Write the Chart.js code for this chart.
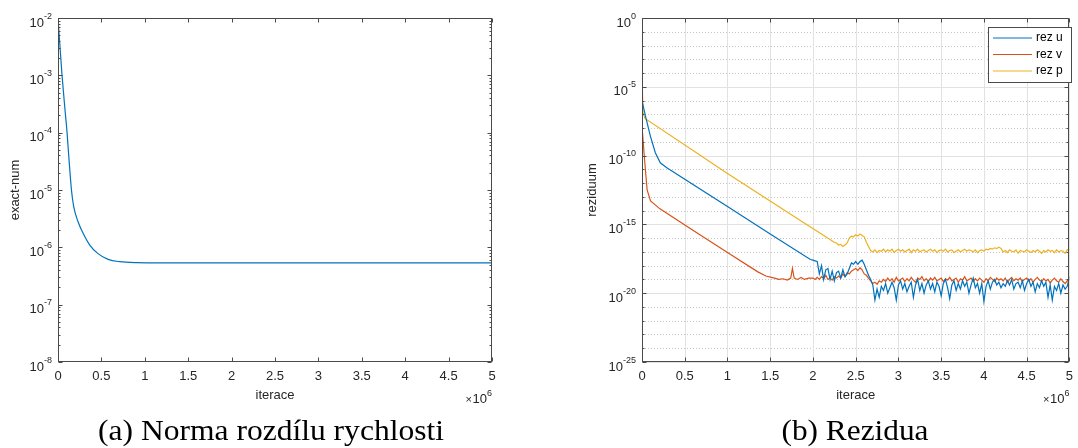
<!DOCTYPE html>
<html>
<head>
<meta charset="utf-8">
<title>Norma rozdílu rychlosti / Rezidua</title>
<script src="https://cdn.jsdelivr.net/npm/chart.js@4.4.1/dist/chart.umd.min.js"></script>
<style>
  body { margin: 0; width: 1078px; height: 448px; overflow: hidden; background: #fff; position: relative; }
  canvas { position: absolute; top: 0; }
  .cap { position: absolute; top: 416px; font: 29px/29px "Liberation Serif", "Times New Roman", serif; color: #000; white-space: nowrap; transform-origin: center; }
</style>
</head>
<body>
<canvas id="chartA" width="540" height="448" style="left:0"></canvas>
<canvas id="chartB" width="540" height="448" style="left:540px"></canvas>
<div class="cap" id="capA">(a) Norma rozdílu rychlosti</div>
<div class="cap" id="capB">(b) Rezidua</div>
<script>
// x values are in units of 10^6 iterations, y values are stored as log10
const exactX = [0, 0.02, 0.046, 0.077, 0.104, 0.127, 0.155, 0.181, 0.23, 0.288, 0.366, 0.461, 0.577, 0.712, 0.904, 1.2, 5.0];
const exactLog10 = [-2.0, -2.44, -2.99, -3.54, -3.99, -4.47, -5.0, -5.29, -5.55, -5.75, -5.96, -6.11, -6.21, -6.25, -6.266, -6.27, -6.27];

// smooth start of each residual curve
const rezUHeadX = [0, 0.04, 0.098, 0.156, 0.214, 0.29, 1.0, 1.5, 1.97];
const rezUHeadLog10 = [-6.0, -7.12, -8.58, -9.79, -10.52, -10.88, -13.7, -15.7, -17.55];
const rezVHeadX = [0, 0.03, 0.06, 0.1, 0.21, 0.6, 1.0, 1.355, 1.45, 1.55, 1.6, 1.65, 1.7, 1.74, 1.76, 1.78, 1.82, 1.86, 1.9, 1.95];
const rezVHeadLog10 = [-7.85, -10.3, -12.5, -13.3, -13.87, -15.45, -17.05, -18.45, -18.75, -18.9, -19.0, -18.95, -19.05, -18.9, -18.2, -18.9, -19.0, -18.85, -19.0, -18.9];
const rezPHeadX = [0, 0.004, 0.012, 0.035, 1.0, 1.975];
const rezPHeadLog10 = [-1.2, -5.0, -6.9, -7.3, -11.3, -15.2];

// noisy part, read every 0.025e6 iterations from 2.0e6 to 5.0e6
const tailStart = 2.0;
const tailStep = 0.025;
const rezUTailLog10 = [
  -17.6, -17.65, -17.7, -18.6, -18.0, -19.0, -18.3, -18.2, -19.0, -18.4,
  -19.1, -18.5, -18.4, -18.9, -18.3, -18.8, -18.6, -18.2, -17.8, -17.9,
  -17.7, -17.9, -17.7, -17.6, -17.9, -18.3, -18.7, -19.0, -19.4, -20.5,
  -19.7, -20.3, -19.5, -19.8, -19.3, -20.0, -19.6, -19.2, -19.6, -20.5,
  -19.4, -19.1, -19.7, -19.3, -19.9, -19.5, -19.2, -20.3, -19.4, -19.0,
  -19.8, -19.3, -20.0, -19.4, -19.1, -19.7, -19.3, -19.9, -19.2, -19.5,
  -20.2, -19.3, -19.0, -19.6, -20.4, -19.4, -19.1, -19.8, -19.3, -19.7,
  -19.1, -19.5, -19.2, -20.0, -19.4, -18.9, -19.6, -19.3, -20.0, -19.3,
  -20.6, -19.5, -19.1, -19.7, -19.2, -19.0, -19.4, -19.2, -19.6, -19.3,
  -19.5, -19.1, -19.4, -19.0, -19.7, -19.3, -19.2, -19.6, -19.1, -19.8,
  -19.3, -19.0, -19.5, -19.2, -19.9, -19.3, -19.6, -19.1, -19.5, -19.2,
  -20.3, -19.4, -20.5, -19.5, -19.8, -19.3, -20.0, -19.4, -19.7, -19.5,
  -18.8
];
const rezVTailLog10 = [
  -18.9, -19.0, -18.85, -19.0, -18.8, -18.95, -18.7, -19.0, -18.9, -19.05,
  -18.8, -18.9, -18.75, -18.9, -18.6, -18.8, -18.5, -18.6, -18.4, -18.3,
  -18.2, -18.35, -18.15, -18.3, -18.6, -18.7, -18.9, -19.1, -19.3, -19.2,
  -19.35, -19.1, -19.2, -19.0, -19.15, -18.9, -19.1, -18.95, -19.2, -18.85,
  -19.1, -19.0, -18.9, -19.15, -18.95, -19.1, -18.85, -19.05, -19.2, -18.9,
  -19.0, -18.8, -19.1, -18.95, -19.15, -18.9, -19.05, -18.85, -19.1, -19.0,
  -18.9, -19.15, -18.95, -19.05, -18.85, -19.1, -19.0, -18.9, -19.2, -18.95,
  -19.05, -18.8, -19.1, -19.0, -18.9, -19.15, -18.95, -19.1, -18.9, -19.05,
  -19.2, -18.95, -19.1, -18.85, -19.0, -19.15, -18.9, -19.05, -18.95, -19.1,
  -18.9, -19.2, -19.0, -18.85, -19.1, -18.95, -19.05, -18.9, -19.15, -19.0,
  -18.9, -19.1, -18.95, -19.2, -19.0, -18.85, -19.05, -19.15, -18.95, -19.1,
  -19.0, -19.25, -19.05, -18.9, -19.1, -19.2, -18.95, -19.15, -19.3, -19.1,
  -19.0
];
const rezPTailLog10 = [
  -15.3, -15.4, -15.5, -15.6, -15.7, -15.8, -15.9, -16.0, -16.1, -16.2,
  -16.3, -16.35, -16.5, -16.45, -16.6, -16.5, -16.35, -16.0, -15.85, -15.9,
  -15.75, -15.85, -15.7, -15.8, -15.9, -16.3, -16.6, -16.9, -17.0, -16.85,
  -17.05, -16.9, -16.95, -16.8, -17.0, -16.85, -16.95, -16.8, -17.05, -16.9,
  -16.8, -16.95, -16.85, -17.0, -16.9, -16.8, -17.05, -16.85, -16.95, -16.8,
  -17.0, -16.9, -16.85, -17.0, -16.9, -16.8, -16.95, -16.85, -17.05, -16.9,
  -16.85, -16.95, -16.8, -17.0, -16.9, -16.85, -17.05, -16.95, -16.85, -17.0,
  -16.9, -16.8, -16.95, -16.85, -16.9, -17.0, -16.85, -17.05, -16.9, -16.85,
  -16.95, -16.8, -16.85, -16.75, -16.8, -16.7, -16.75, -16.65, -16.75, -17.0,
  -16.9, -17.05, -16.85, -16.95, -17.0, -16.85, -17.1, -16.9, -16.95, -17.0,
  -16.85, -16.95, -17.05, -16.9, -17.0, -16.85, -16.95, -17.1, -16.9, -17.0,
  -16.85, -16.95, -16.9, -17.05, -16.85, -17.0, -16.9, -16.95, -17.1, -16.85,
  -16.8
];

const leftYExps = [-8, -7, -6, -5, -4, -3, -2];
const rightYExps = [-25, -20, -15, -10, -5, 0];
const xTickStep = 0.5;

const seriesLabels = ["rez u", "rez v", "rez p"];
const blue = "#0072BD", red = "#D95319", yellow = "#EDB120";
const ink = "#262626";

Chart.defaults.font.family = '"Liberation Sans", Arial, sans-serif';
Chart.defaults.font.size = 13;

function points(xs, logs) {
  return xs.map((x, i) => ({ x: x, y: Math.pow(10, logs[i]) }));
}
function withTail(headX, headLog, tailLog) {
  const pts = points(headX, headLog);
  tailLog.forEach((l, i) => pts.push({ x: tailStart + i * tailStep, y: Math.pow(10, l) }));
  return pts;
}

// MATLAB-like box, inward ticks, exponent labels, grid and legend
const matlabAxes = {
  id: "matlabAxes",
  beforeDatasetsDraw(chart, args, opts) {
    if (!opts.grid) return;
    const { ctx, chartArea: a, scales: { x, y } } = chart;
    ctx.save();
    ctx.lineWidth = 1;
    const lo = opts.yExps[0], hi = opts.yExps[opts.yExps.length - 1];
    ctx.strokeStyle = "#c4c4c4";
    ctx.setLineDash([1, 2]);
    for (let e = lo + 1; e < hi; e++) {
      if (opts.yExps.includes(e)) continue;
      const py = Math.round(y.getPixelForValue(Math.pow(10, e))) + 0.5;
      ctx.beginPath(); ctx.moveTo(a.left, py); ctx.lineTo(a.right, py); ctx.stroke();
    }
    ctx.setLineDash([]);
    ctx.strokeStyle = "#e2e2e2";
    opts.yExps.forEach(e => {
      const py = Math.round(y.getPixelForValue(Math.pow(10, e))) + 0.5;
      ctx.beginPath(); ctx.moveTo(a.left, py); ctx.lineTo(a.right, py); ctx.stroke();
    });
    x.ticks.forEach(t => {
      const px = Math.round(x.getPixelForValue(t.value)) + 0.5;
      ctx.beginPath(); ctx.moveTo(px, a.top); ctx.lineTo(px, a.bottom); ctx.stroke();
    });
    ctx.restore();
  },
  afterDraw(chart, args, opts) {
    const { ctx, chartArea: a, scales: { x, y } } = chart;
    const L = Math.round(a.left) + 0.5, R = Math.round(a.right) - 0.5;
    const T = Math.round(a.top) + 0.5, B = Math.round(a.bottom) - 0.5;
    ctx.save();
    ctx.strokeStyle = "#4a4a4a";
    ctx.lineWidth = 1;
    ctx.strokeRect(L, T, R - L, B - T);

    // ticks
    ctx.beginPath();
    x.ticks.forEach(t => {
      const px = Math.round(x.getPixelForValue(t.value)) + 0.5;
      ctx.moveTo(px, B); ctx.lineTo(px, B - 4);
      ctx.moveTo(px, T); ctx.lineTo(px, T + 4);
    });
    const lo = opts.yExps[0], hi = opts.yExps[opts.yExps.length - 1];
    const yTick = (v, len) => {
      const py = Math.round(y.getPixelForValue(v)) + 0.5;
      ctx.moveTo(L, py); ctx.lineTo(L + len, py);
      ctx.moveTo(R, py); ctx.lineTo(R - len, py);
    };
    opts.yExps.forEach(e => yTick(Math.pow(10, e), 4));
    if (opts.minor === "log") {
      for (let e = lo; e < hi; e++) {
        for (let m = 2; m <= 9; m++) yTick(m * Math.pow(10, e), 2);
      }
    } else {
      for (let e = lo + 1; e < hi; e++) {
        if (!opts.yExps.includes(e)) yTick(Math.pow(10, e), 2);
      }
    }
    ctx.stroke();

    // y labels 10^e
    ctx.fillStyle = ink;
    ctx.textAlign = "left";
    ctx.textBaseline = "alphabetic";
    opts.yExps.forEach(e => {
      const py = y.getPixelForValue(Math.pow(10, e));
      const right = a.left - 6;
      ctx.font = '9px "Liberation Sans", Arial, sans-serif';
      const ex = String(e);
      const we = ctx.measureText(ex).width;
      ctx.fillText(ex, right - we, py + 0.5);
      ctx.font = '13px "Liberation Sans", Arial, sans-serif';
      const wb = ctx.measureText("10").width;
      ctx.fillText("10", right - we - wb, py + 8.5);
    });

    // x10^6 under the right end of the x axis
    ctx.font = '9px "Liberation Sans", Arial, sans-serif';
    const w6 = ctx.measureText("6").width;
    ctx.fillText("6", a.right - w6, 396);
    ctx.font = '13px "Liberation Sans", Arial, sans-serif';
    const w10 = ctx.measureText("10").width;
    ctx.fillText("10", a.right - w6 - w10, 403);
    ctx.font = '11px "Liberation Sans", Arial, sans-serif';
    const wx = ctx.measureText("\u00d7").width;
    ctx.fillText("\u00d7", a.right - w6 - w10 - wx - 0.5, 403);

    // legend box inside the axes
    if (opts.legend) {
      const lg = opts.legend;
      ctx.fillStyle = "#fff";
      ctx.fillRect(lg.x, lg.y, lg.w, lg.h);
      ctx.strokeStyle = "#4a4a4a";
      ctx.strokeRect(lg.x + 0.5, lg.y + 0.5, lg.w, lg.h);
      ctx.font = '12px "Liberation Sans", Arial, sans-serif';
      ctx.textBaseline = "middle";
      chart.data.datasets.forEach((ds, i) => {
        const ry = lg.y + lg.firstRow + i * lg.rowGap;
        ctx.strokeStyle = ds.borderColor;
        ctx.lineWidth = 1.2;
        ctx.beginPath(); ctx.moveTo(lg.x + 5, ry); ctx.lineTo(lg.x + 44, ry); ctx.stroke();
        ctx.fillStyle = "#000";
        ctx.fillText(ds.label, lg.x + 48, ry);
      });
    }
    ctx.restore();
  }
};

function xScale() {
  return {
    type: "linear", min: 0, max: 5,
    grid: { display: false, drawTicks: false },
    border: { display: false },
    ticks: { stepSize: xTickStep, padding: 7, color: ink, maxRotation: 0, autoSkip: false, callback: v => String(v) },
    title: { display: true, text: "iterace", color: ink, padding: { top: 0, bottom: 45 } },
    afterFit: s => { s.height = 86; }
  };
}

new Chart(document.getElementById("chartA"), {
  type: "line",
  data: {
    datasets: [{
      label: "exact-num",
      data: points(exactX, exactLog10),
      borderColor: blue, borderWidth: 1.2, pointRadius: 0, fill: false,
      cubicInterpolationMode: "monotone"
    }]
  },
  options: {
    responsive: false, animation: false, devicePixelRatio: 1,
    layout: { padding: { left: 0, top: 18, right: 48, bottom: 0 } },
    plugins: {
      legend: { display: false }, tooltip: { enabled: false },
      matlabAxes: { yExps: leftYExps, minor: "log", grid: false }
    },
    scales: {
      x: xScale(),
      y: {
        type: "logarithmic", min: Math.pow(10, leftYExps[0]), max: Math.pow(10, leftYExps[leftYExps.length - 1]),
        grid: { display: false, drawTicks: false }, border: { display: false },
        ticks: { display: false },
        title: { display: true, text: "exact-num", color: ink, padding: { top: 8, bottom: 0 } },
        afterFit: s => { s.width = 58; }
      }
    }
  },
  plugins: [matlabAxes]
});

new Chart(document.getElementById("chartB"), {
  type: "line",
  data: {
    datasets: [
      { label: seriesLabels[0], data: withTail(rezUHeadX, rezUHeadLog10, rezUTailLog10), borderColor: blue, borderWidth: 1.2, pointRadius: 0, fill: false },
      { label: seriesLabels[1], data: withTail(rezVHeadX, rezVHeadLog10, rezVTailLog10), borderColor: red, borderWidth: 1.2, pointRadius: 0, fill: false },
      { label: seriesLabels[2], data: withTail(rezPHeadX, rezPHeadLog10, rezPTailLog10), borderColor: yellow, borderWidth: 1.2, pointRadius: 0, fill: false }
    ]
  },
  options: {
    responsive: false, animation: false, devicePixelRatio: 1,
    layout: { padding: { left: 0, top: 18, right: 4, bottom: 0 } },
    plugins: {
      legend: { display: false }, tooltip: { enabled: false },
      matlabAxes: {
        yExps: rightYExps, minor: "decade", grid: true,
        legend: { x: 448, y: 27, w: 83, h: 55, firstRow: 11, rowGap: 16.5 }
      }
    },
    scales: {
      x: xScale(),
      y: {
        type: "logarithmic", min: Math.pow(10, rightYExps[0]), max: Math.pow(10, rightYExps[rightYExps.length - 1]),
        grid: { display: false, drawTicks: false }, border: { display: false },
        ticks: { display: false },
        title: { display: true, text: "reziduum", color: ink, padding: { top: 45, bottom: 0 } },
        afterFit: s => { s.width = 102; }
      }
    }
  },
  plugins: [matlabAxes]
});

// captions: serif text stretched to the width it has in the figure
function placeCaption(id, centerX, width) {
  const el = document.getElementById(id);
  const w = el.getBoundingClientRect().width;
  el.style.left = centerX + "px";
  el.style.transform = "translateX(-50%) scaleX(" + (width / w) + ")";
}
placeCaption("capA", 271, 346);
placeCaption("capB", 855, 147);
</script>
</body>
</html>
